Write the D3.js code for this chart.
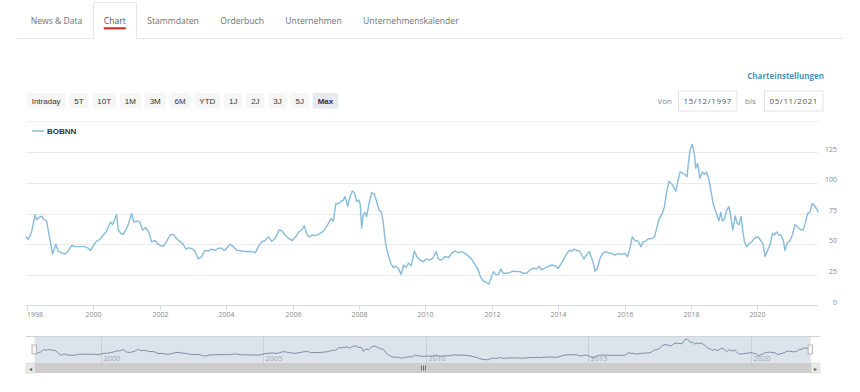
<!DOCTYPE html>
<html><head><meta charset="utf-8">
<script src="https://cdn.jsdelivr.net/npm/d3@7/dist/d3.min.js"></script>
<style>
html,body{margin:0;padding:0;background:#fff;}
svg{display:block;}
</style></head><body>
<svg id="c" width="860" height="392"></svg>
<script>
// ---------- data ----------
const tabs = ["News & Data","Chart","Stammdaten","Orderbuch","Unternehmen","Unternehmenskalender"];
const activeTab = "Chart";
const rangeButtons = ["Intraday","5T","10T","1M","3M","6M","YTD","1J","2J","3J","5J","Max"];
const activeRange = "Max";
const seriesName = "BOBNN";
const settingsLabel = "Charteinstellungen";
const fromLabel = "Von", toLabel = "bis";
const dateFrom = "15/12/1997", dateTo = "05/11/2021";
const yTicks = [0,25,50,75,100,125];
const xTickYears = [1998,2000,2002,2004,2006,2008,2010,2012,2014,2016,2018,2020];
const navTickYears = [2000,2005,2010,2015,2020];
// decimal years and closing prices
const years = [1997.96,1998.04,1998.14,1998.24,1998.29,1998.37,1998.44,1998.51,1998.59,1998.67,1998.77,1998.87,1998.94,1999.04,1999.14,1999.24,1999.35,1999.45,1999.60,1999.75,1999.85,1999.92,2000.00,2000.10,2000.20,2000.30,2000.38,2000.45,2000.52,2000.58,2000.65,2000.70,2000.75,2000.82,2000.90,2000.98,2001.05,2001.15,2001.22,2001.30,2001.40,2001.48,2001.58,2001.68,2001.75,2001.86,2001.93,2002.01,2002.11,2002.21,2002.31,2002.41,2002.49,2002.59,2002.69,2002.79,2002.86,2002.96,2003.06,2003.16,2003.26,2003.36,2003.46,2003.56,2003.66,2003.76,2003.86,2003.93,
2003.96,2004.11,2004.21,2004.32,2004.47,2004.62,2004.77,2004.87,2004.97,2005.07,2005.17,2005.27,2005.37,2005.47,2005.59,2005.67,2005.77,2005.89,2005.99,2006.09,2006.19,2006.29,2006.35,2006.42,2006.49,2006.59,2006.69,2006.80,2006.90,2007.00,2007.08,2007.16,2007.23,2007.30,2007.38,2007.46,2007.53,2007.58,2007.66,2007.73,2007.80,2007.86,2007.93,2008.00,2008.04,2008.08,2008.13,2008.18,2008.23,2008.30,2008.38,2008.46,2008.53,2008.60,2008.68,2008.73,2008.78,2008.83,2008.88,2008.96,2009.03,2009.10,2009.18,2009.27,2009.34,2009.41,2009.49,2009.57,2009.67,2009.74,2009.81,
2009.84,2009.94,2010.02,2010.12,2010.22,2010.32,2010.39,2010.49,2010.59,2010.69,2010.79,2010.89,2010.99,2011.09,2011.19,2011.29,2011.39,2011.49,2011.59,2011.66,2011.74,2011.83,2011.91,2011.97,2012.05,2012.13,2012.20,2012.27,2012.35,2012.45,2012.55,2012.65,2012.75,2012.85,2012.95,2013.05,2013.15,2013.25,2013.35,2013.43,2013.50,2013.60,2013.70,2013.80,2013.90,2014.00,2014.10,2014.17,2014.26,2014.34,2014.41,2014.48,2014.56,2014.64,2014.71,2014.78,2014.86,2014.94,2015.01,2015.06,2015.11,2015.18,2015.26,2015.34,2015.44,
2015.51,2015.61,2015.71,2015.81,2015.91,2016.01,2016.09,2016.16,2016.23,2016.31,2016.41,2016.49,2016.56,2016.63,2016.71,2016.82,2016.90,2016.97,2017.04,2017.12,2017.20,2017.26,2017.34,2017.42,2017.50,2017.54,2017.60,2017.67,2017.74,2017.82,2017.88,2017.92,2017.97,2018.04,2018.10,2018.14,2018.20,2018.27,2018.34,2018.40,2018.47,2018.54,2018.60,2018.67,2018.74,2018.80,2018.84,2018.90,2018.94,2019.00,2019.07,2019.14,2019.20,2019.26,2019.33,2019.39,2019.45,2019.51,2019.55,2019.61,2019.68,2019.75,2019.83,2019.93,2020.03,2020.11,2020.17,2020.23,2020.31,2020.39,2020.45,2020.51,2020.58,2020.65,2020.71,2020.78,2020.83,2020.89,2020.97,2021.05,2021.13,2021.21,2021.29,2021.38,2021.45,2021.51,2021.58,2021.65,2021.71,2021.78,2021.84];
const prices = [56,54,60,74,70,72,73,70,69,57,42,50,44.5,43,42,44.5,49,48,48,48,46.5,45,49,52.6,54,57.5,60,64,68,66,71,74,61.6,59,58,62,66,75,68,69,68,61.6,63.5,59,52,53,50.5,49,48.5,52.5,57.5,58,55,52.5,50.5,46,47,46.5,44.5,38,40,45,44.5,46,45,46.5,47,45,
45,50,48,45,44.5,44,44,43,48,52,53,56,52.5,54.5,61.6,61,57.5,54.5,53,56,60,62,65,59,56,57.5,57,58.5,60,63.5,67,71,69,83,83,85,86,89,81,89,93.4,92,85,86,82,63,74,76,72.5,83,92,91,85,78,76,68,54.5,46.5,41,34.4,31,32,30.5,25.4,33,31,34.5,32.5,44.5,40,38,
37,35.7,38,37,38.5,44,38,37,40,39,42.5,44.5,43,44,42.5,40.5,38,33.6,29,23.5,20,19,17.3,21.6,27.6,25,25.4,29.8,26.3,26.3,27,28,27.6,27.6,26.3,26.3,29,30.4,30,32,29,30.4,32,33,32.5,30.4,34.5,38,42.5,45,44.5,46,45,44.5,41,38,41.7,44,38.5,34.5,28,30.4,38.5,42.5,44,
43,42.5,41,42.5,41.7,42.5,40,46.5,56,53,52.5,48,52,52.5,54.5,54.5,56,63.5,71,74,80.6,91.5,101.5,99,95.6,93,101,109,108,106.7,105,116,126.8,131.5,124,112,116,103.7,109,107,109,102.5,94,83,77,72.5,69,76,69,70,77.5,80.6,72.5,61.6,73,67,66,72.5,63,52,48,50.5,52,55.3,56,52.5,50.5,40,45,50.5,58.9,57.5,60,57.5,57.5,53,45,50.5,52.5,57.5,66,64,62,61.5,68,75,76,83,81.6,79,76];

// ---------- helpers ----------
function decToDate(y){
  const yr = Math.floor(y);
  const a = Date.UTC(yr,0,1), b = Date.UTC(yr+1,0,1);
  return new Date(a + (y-yr)*(b-a));
}
const data = years.map((y,i)=>({d:decToDate(y), v:prices[i]}));
const startDate = new Date(Date.UTC(1997,11,15));
const endDate = new Date(Date.UTC(2021,10,5));

const svg = d3.select("#c");
const FONT_UI = "'Open Sans', sans-serif";
const FONT_BTN = "'Liberation Sans', Arial, sans-serif";
const lineColor = "#86bbdb";

// ---------- tabs ----------
const tabG = svg.append("g");
let tx = 30.7;
const tabPos = [];
tabs.forEach(t=>{
  const el = tabG.append("text").attr("x",tx).attr("y",24)
    .attr("font-family",FONT_UI).attr("font-size",8.6)
    .attr("fill", t===activeTab ? "#555" : "#707070").text(t);
  const w = el.node().getComputedTextLength();
  tabPos.push({t,x:tx,w});
  tx += w + 21.4;
});
const act = tabPos.find(p=>p.t===activeTab);
const bx0 = act.x - 10.3, bx1 = act.x + act.w + 10.7;
tabG.append("path")
  .attr("d",`M17,38.5H${bx0}V2.5H${bx1}V38.5H843`)
  .attr("fill","none").attr("stroke","#e6e6e6").attr("stroke-width",1);
tabG.append("rect").attr("x",act.x).attr("y",27.3).attr("width",act.w).attr("height",2)
  .attr("fill","#cf2a1f");

// ---------- settings / date range ----------
svg.append("text").attr("x",824).attr("y",78.5).attr("text-anchor","end")
  .attr("font-family",FONT_UI).attr("font-weight",700).attr("font-size",8)
  .attr("fill","#4b93b8").text(settingsLabel);
svg.append("text").attr("x",672).attr("y",103.5).attr("text-anchor","end")
  .attr("font-family",FONT_UI).attr("font-size",8).attr("fill","#888").text(fromLabel);
svg.append("text").attr("x",745).attr("y",103.5)
  .attr("font-family",FONT_UI).attr("font-size",8).attr("fill","#888").text(toLabel);
[[678.5,dateFrom],[764.5,dateTo]].forEach(([x,t])=>{
  svg.append("rect").attr("x",x).attr("y",91).attr("width",58.5).attr("height",20)
    .attr("fill","#fff").attr("stroke","#e3e3e3");
  svg.append("text").attr("x",x+29.25).attr("y",103.8).attr("text-anchor","middle")
    .attr("font-family",FONT_UI).attr("font-size",8).attr("letter-spacing",0.6)
    .attr("fill","#555").text(t);
});

// ---------- range buttons ----------
let bx = 26.7;
rangeButtons.forEach(b=>{
  const g = svg.append("g");
  const isA = b===activeRange;
  const r = g.append("rect").attr("y",93).attr("height",15.5).attr("rx",1)
    .attr("fill", isA ? "#e6e9f1" : "#f6f6f6");
  const t = g.append("text").attr("y",103.6).attr("font-family",FONT_BTN)
    .attr("font-size",8).attr("font-weight",isA?700:400).attr("fill","#333").text(b);
  const w = t.node().getComputedTextLength();
  const bw = w + 10;
  r.attr("x",bx).attr("width",bw);
  t.attr("x",bx + bw/2).attr("text-anchor","middle");
  bx += bw + 3.7;
});

// separator line above legend
svg.append("line").attr("x1",27).attr("x2",820).attr("y1",121.5).attr("y2",121.5)
  .attr("stroke","#f0f0f0");

// ---------- legend ----------
svg.append("line").attr("x1",32).attr("x2",44).attr("y1",131).attr("y2",131)
  .attr("stroke",lineColor).attr("stroke-width",1.5);
svg.append("text").attr("x",47).attr("y",134).attr("font-family",FONT_BTN)
  .attr("font-size",8).attr("font-weight",700).attr("fill","#333").text(seriesName);

// ---------- main chart ----------
const pxPerYear = 33.2;
const x1998 = 27;
const dayFrac = d => (d - Date.UTC(1998,0,1))/(365.2425*864e5);
const x = d3.scaleUtc().domain([startDate,endDate])
  .range([x1998 + dayFrac(startDate)*pxPerYear, x1998 + dayFrac(endDate)*pxPerYear]);
const y = d3.scaleLinear().domain([0,125]).range([305.5,152.3]);
const plotL = 26, plotR = 818;

const grid = svg.append("g");
yTicks.filter(t=>t>0).forEach(t=>{
  grid.append("line").attr("x1",plotL).attr("x2",plotR).attr("y1",Math.round(y(t))+0.5).attr("y2",Math.round(y(t))+0.5)
    .attr("stroke","#ebebeb");
});
grid.append("line").attr("x1",plotL).attr("x2",plotR).attr("y1",305.5).attr("y2",305.5)
  .attr("stroke","#d5dbe6");
yTicks.forEach(t=>{
  svg.append("text").attr("x",837).attr("y",y(t)-0.8).attr("text-anchor","end")
    .attr("font-family",FONT_UI).attr("font-size",7).attr("fill","#8a8a8a").text(t);
});
xTickYears.forEach(yr=>{
  const d = new Date(Date.UTC(yr,0,1));
  const xx = Math.round(x(d))+0.5;
  svg.append("line").attr("x1",xx).attr("x2",xx).attr("y1",305.5).attr("y2",310.5)
    .attr("stroke","#d5dbe6");
  const t = svg.append("text").attr("x",xx).attr("y",316.8).attr("text-anchor","middle")
    .attr("font-family",FONT_UI).attr("font-size",7).attr("fill","#8a8a8a").text(d3.utcFormat("%Y")(d));
  const w = t.node().getComputedTextLength();
  if (xx - w/2 < plotL) t.attr("text-anchor","start").attr("x",plotL+1);
});

const line = d3.line().x(d=>x(d.d)).y(d=>y(d.v));
svg.append("path").datum(data).attr("d",line).attr("fill","none")
  .attr("stroke",lineColor).attr("stroke-width",1.4).attr("stroke-linejoin","round");

// ---------- navigator ----------
const nx = d3.scaleUtc().domain([startDate,endDate]).range([34.5,810.6]);
const ny = d3.scaleLinear().domain([0,d3.max(prices)]).range([363,339]);
const navTop = 336.5, navBot = 363;
svg.append("rect").attr("x",nx.range()[0]).attr("y",navTop).attr("width",nx.range()[1]-nx.range()[0])
  .attr("height",navBot-navTop).attr("fill","#dce3eb");
navTickYears.forEach(yr=>{
  const d = new Date(Date.UTC(yr,0,1));
  const xx = Math.round(nx(d))+0.5;
  svg.append("line").attr("x1",xx).attr("x2",xx).attr("y1",navTop).attr("y2",navBot)
    .attr("stroke","#c6ced8");
  svg.append("text").attr("x",xx+2).attr("y",360.5).attr("font-family",FONT_UI)
    .attr("font-size",7.4).attr("fill","#a3a9b0").text(yr);
});
svg.append("line").attr("x1",26).attr("x2",820).attr("y1",navTop).attr("y2",navTop)
  .attr("stroke","#cfd3d8");
const nline = d3.line().x(d=>nx(d.d)).y(d=>ny(d.v));
svg.append("path").datum(data).attr("d",nline).attr("fill","none")
  .attr("stroke","#73859c").attr("stroke-width",0.9);
// handles
[nx.range()[0], nx.range()[1]].forEach(hx=>{
  svg.append("rect").attr("x",hx-2.5).attr("y",345).attr("width",4.5).attr("height",9)
    .attr("fill","#f5f5f5").attr("stroke","#a8a8a8").attr("stroke-width",0.8);
});
// scrollbar
svg.append("rect").attr("x",26).attr("y",363).attr("width",794).attr("height",10).attr("fill","#cdcdcd");
[[26,"◂"],[811,"▸"]].forEach(([bx2,ch])=>{
  svg.append("rect").attr("x",bx2).attr("y",363).attr("width",9).attr("height",10)
    .attr("fill","#e8e8e8").attr("stroke","#cfcfcf").attr("stroke-width",0.6);
  svg.append("text").attr("x",bx2+4.5).attr("y",370.5).attr("text-anchor","middle")
    .attr("font-family",FONT_BTN).attr("font-size",6).attr("fill","#555").text(ch);
});
[-2,0,2].forEach(o=>{
  svg.append("line").attr("x1",423+o+0.5).attr("x2",423+o+0.5).attr("y1",365.5).attr("y2",370.5)
    .attr("stroke","#555").attr("stroke-width",0.8);
});
</script>
</body></html>
